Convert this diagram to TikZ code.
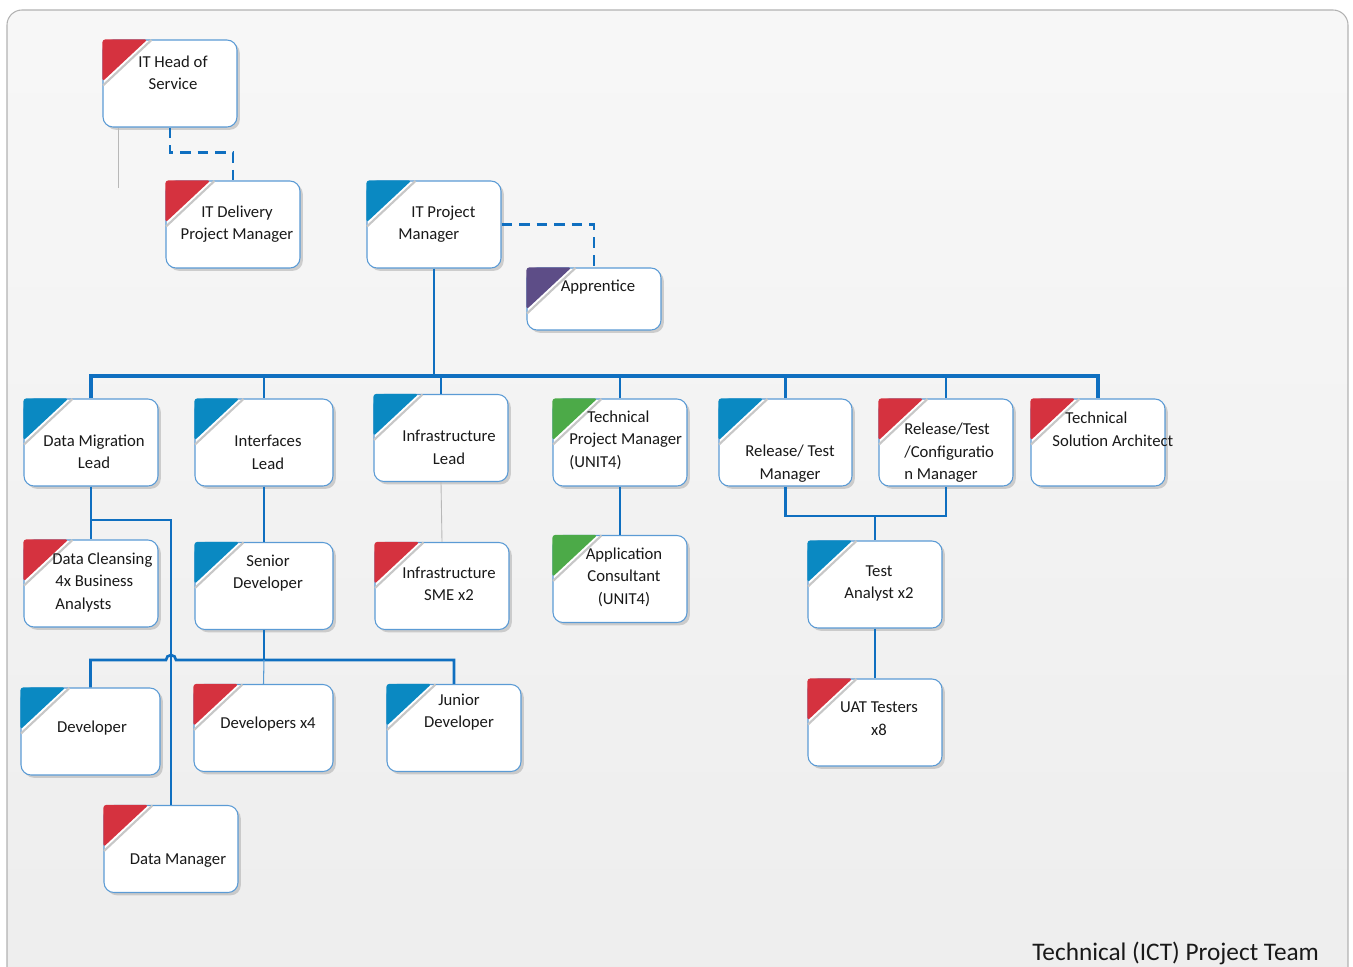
\documentclass[tikz,border=0pt]{standalone}
\usepackage{fontspec}
\setmainfont{Carlito}
\usetikzlibrary{shadows,calc}
\definecolor{cornerred}{HTML}{D5323F}
\definecolor{cornerblue}{HTML}{0A89C2}
\definecolor{cornergreen}{HTML}{4CAA48}
\definecolor{cornerpurple}{HTML}{5D4D87}
\definecolor{linkblue}{HTML}{0F6FC0}
\definecolor{boxedge}{HTML}{5B9BD5}
\tikzset{
    rolebox/.style={draw=boxedge, line width=0.6pt, fill=white, rounded corners=0.2cm,
        minimum width=2.68cm, minimum height=1.74cm, inner sep=0pt,
        drop shadow={shadow xshift=1.6pt, shadow yshift=-1.6pt, fill=black!35, opacity=0.5}},
    roletext/.style={align=center, text=black!90, font=\fontsize{9.5}{12.8}\selectfont},
    lefttext/.style={roletext, align=left, anchor=west, inner xsep=0pt},
    orgline/.style={draw=linkblue, line width=1.5pt},
    dashlink/.style={orgline, dash pattern=on 6pt off 4pt},
    faintline/.style={draw=black!28, line width=0.5pt}
}

\begin{document}
\begin{tikzpicture}[x=0.02cm, y=-0.02cm]
		\useasboundingbox (0,0) rectangle (1353,967);
		% frame
		\shade[top color=white!97!black, bottom color=white!93!black, draw=black!30,
            line width=0.6pt, rounded corners=0.3cm] (7,10) rectangle (1348,1000);

		% boxes
		\node[rolebox] (head) at (170,83.5) {};
		\node[rolebox] (dpm) at (233,224.5) {};
		\node[rolebox] (itpm) at (434,224.5) {};
		\node[rolebox, minimum height=1.24cm] (appr) at (594,299) {};

		\node[rolebox] (dml) at (91,442.5) {};
		\node[rolebox, minimum width=2.76cm] (ifl) at (264,442.5) {};
		\node[rolebox] (infl) at (441,438) {};
		\node[rolebox] (tpm) at (620,442.5) {};
		\node[rolebox, minimum width=2.66cm] (rtm) at (785.5,442.5) {};
		\node[rolebox] (rtcm) at (946,442.5) {};
		\node[rolebox] (tsa) at (1098,442.5) {};

		\node[rolebox] (dcl) at (91,583.5) {};
		\node[rolebox, minimum width=2.76cm] (sdev) at (264,586) {};
		\node[rolebox] (sme) at (442,586) {};
		\node[rolebox] (acon) at (620,579) {};
		\node[rolebox] (tan) at (875,584.5) {};

		\node[rolebox, minimum width=2.78cm] (dev) at (90.5,731.5) {};
		\node[rolebox, minimum width=2.78cm] (devx) at (263.5,728) {};
		\node[rolebox] (jdev) at (454,728) {};
		\node[rolebox] (uat) at (875,722.5) {};
		\node[rolebox] (dmgr) at (171,849) {};

		% coloured corners
		\foreach \n/\c in {head/cornerred, dpm/cornerred, itpm/cornerblue, appr/cornerpurple,
            dml/cornerblue, ifl/cornerblue, infl/cornerblue, tpm/cornergreen, rtm/cornerblue,
            rtcm/cornerred, tsa/cornerred, dcl/cornerred, sdev/cornerblue, sme/cornerred,
            acon/cornergreen, tan/cornerblue, dev/cornerblue, devx/cornerred, jdev/cornerblue,
            uat/cornerred, dmgr/cornerred} {
			\fill[\c, rounded corners=1.5pt] ([shift={(0,42)}]\n.north west) |- ([shift={(45,0)}]\n.north west) -- cycle;
			\draw[black!22, line width=1.2pt] ([shift={(0.5,46)}]\n.north west) -- ([shift={(49,0.5)}]\n.north west);
		}

		% texts
		\node[roletext] (head-t) at (173,73) {IT Head of\\Service};
		\node[roletext] (dpm-t) at (237,224) {IT Delivery\\Project Manager};
		\node[lefttext] (itpm-t) at (398,224) {\hspace*{0.26cm}IT Project\\Manager};
		\node[roletext] (appr-t) at (598,287) {Apprentice};
		\node[roletext] (dml-t) at (94,452) {Data Migration\\Lead};
		\node[roletext] (ifl-t) at (268,452.5) {Interfaces\\Lead};
		\node[roletext] (infl-t) at (449,447.5) {Infrastructure\\Lead};
		\node[lefttext] (tpm-t) at (569,440) {\hspace*{0.36cm}Technical\\Project Manager\\(UNIT4)};
		\node[roletext] (rtm-t) at (790,463.5) {Release/ Test\\Manager};
		\node[lefttext] (rtcm-t) at (904,453) {Release/Test\\/Configuratio\\n Manager};
		\node[lefttext] (tsa-t) at (1052,429.5) {\hspace*{0.26cm}Technical\\Solution Architect};
		\node[lefttext] (dcl-t) at (52,582.5) {Data Cleansing\\\hspace*{0.06cm}4x Business\\\hspace*{0.06cm}Analysts};
		\node[roletext] (sdev-t) at (268,573) {Senior\\Developer};
		\node[roletext] (sme-t) at (449,584) {Infrastructure\\SME x2};
		\node[roletext] (acon-t) at (624,577) {Application\\Consultant\\(UNIT4)};
		\node[roletext] (tan-t) at (879,583.5) {Test\\Analyst x2};
		\node[roletext] (dev-t) at (92,728) {Developer};
		\node[roletext] (devx-t) at (268,724) {Developers x4};
		\node[roletext] (jdev-t) at (459,712) {Junior\\Developer};
		\node[roletext] (uat-t) at (879,718.5) {UAT Testers\\x8};
		\node[roletext] (dmgr-t) at (178,861) {Data Manager};

		\node[anchor=base west, inner xsep=0pt, text=black!90, font=\fontsize{14.4}{16}\selectfont] (title) at (1032,960) {Technical (ICT) Project Team};

		% connectors
		\coordinate (bus) at (434,376);
		\coordinate (dmfork) at (91,520);
		\coordinate (devbus) at (264,660);
		\coordinate (rtfork) at (875,516);
		\coordinate (stray) at (118,188);

		\draw[faintline] (stray |- head.south) -- (stray);
		\draw[dashlink] (head.south) -- ++(0,25) -| (dpm.north);
		\draw[dashlink] (itpm.east) -| (appr.north);

		\draw[orgline] (itpm.south) -- (bus);
		\draw[orgline, line width=1.9pt] (dml.north) |- (tsa.north |- bus) -- (tsa.north);
		\foreach \n in {ifl, infl, tpm, rtm, rtcm}
			\draw[orgline] (\n.north |- bus) -- (\n.north);

		\draw[orgline] (dml.south) -- (dcl.north);
		\draw[orgline] (dmfork) -| (dmgr.north);
		\draw[orgline] (ifl.south) -- (sdev.north);
		\draw[faintline] (infl.south) -- (sme.north);
		\draw[orgline] (tpm.south) -- (acon.north);

		\draw[orgline] (sdev.south) -- (devbus);
		\draw[orgline] (dev.north) |- ($(dmgr.north |- devbus)+(-5,0)$)
            arc[start angle=180, end angle=0, radius=0.1cm] -- (jdev.north |- devbus) -- (jdev.north);
		\draw[linkblue!70, line width=0.6pt] (devbus) -- (devx.north);

		\draw[orgline] (rtm.south) |- (rtfork) -| (rtcm.south);
		\draw[orgline] (rtfork) -- (tan.north);
		\draw[orgline] (tan.south) -- (uat.north);
\end{tikzpicture}
\end{document}
